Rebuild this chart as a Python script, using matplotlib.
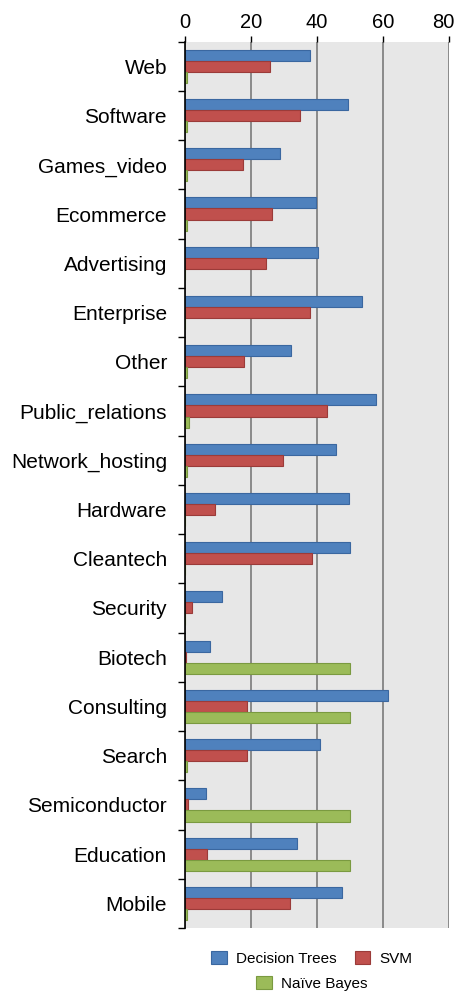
"""
Accuracy per category for three classifiers, horizontal grouped bars
"""

import numpy as np
import matplotlib as mpl
import matplotlib.pyplot as plt
from matplotlib.patches import Patch
from matplotlib.transforms import ScaledTranslation

mpl.rcParams['font.family'] = ['Liberation Sans', 'DejaVu Sans']

categories = ['Web', 'Software', 'Games_video', 'Ecommerce', 'Advertising',
              'Enterprise', 'Other', 'Public_relations', 'Network_hosting',
              'Hardware', 'Cleantech', 'Security', 'Biotech', 'Consulting',
              'Search', 'Semiconductor', 'Education', 'Mobile']
decision_trees = [38, 49.5, 28.8, 39.6, 40.2, 53.8, 32.1, 58, 45.7, 49.8,
                  50, 11.1, 7.7, 61.6, 40.9, 6.4, 34.1, 47.7]
svm = [25.8, 34.8, 17.7, 26.4, 24.7, 37.9, 17.9, 43, 29.8, 9.1,
       38.6, 2, 0.3, 18.8, 18.8, 0.9, 6.8, 31.9]
naive_bayes = [0.5, 0.5, 0.5, 0.5, 0, 0, 0.5, 1.2, 0.6, 0,
               0, 0, 50, 50, 0.5, 50, 50, 0.5]
series_names = ['Decision Trees', 'SVM', 'Naïve Bayes']
x_ticks = [0, 20, 40, 60, 80]

colors = ['#4F81BD', '#C0504D', '#9BBB59']
edges = ['#3A67A0', '#9B3B39', '#7A9A40']

fig = plt.figure(figsize=(4.58, 9.92), dpi=100)
ax = fig.add_axes([0.404, 0.0645, 0.576, 0.8935])
ax.set_facecolor('#E7E7E7')

y = np.arange(len(categories))
h = 0.225
for i, vals in enumerate([decision_trees, svm, naive_bayes]):
    ax.barh(y + (i - 1) * h, vals, height=h, color=colors[i],
            edgecolor=edges[i], linewidth=0.8, zorder=3)

ax.set_xlim(0, 80)
ax.set_ylim(len(categories) - 0.5, -0.5)
ax.set_xticks(x_ticks)
ax.xaxis.tick_top()
ax.tick_params(axis='x', length=4, width=1, pad=3, labelsize=14.5,
               colors='black')
ax.xaxis.grid(True, color='#8A8A8A', linewidth=1.4, zorder=1)

# pull the last top label in so it stays inside the figure
fig.canvas.draw()
last = ax.get_xticklabels()[-1]
last.set_transform(last.get_transform() +
                   ScaledTranslation(-4 / 72, 0, fig.dpi_scale_trans))

ax.set_yticks(y)
ax.set_yticklabels(categories, fontsize=15)
ax.set_yticks(np.arange(len(categories) + 1) - 0.5, minor=True)
ax.tick_params(axis='y', which='major', length=0, pad=13)
ax.tick_params(axis='y', which='minor', length=5, width=1, color='black')

for side in ['top', 'bottom', 'right']:
    ax.spines[side].set_visible(False)
ax.spines['left'].set_color('black')
ax.spines['left'].set_linewidth(1.2)
ax.spines['left'].set_zorder(4)

handles = [Patch(facecolor=c, edgecolor=e, linewidth=0.8)
           for c, e in zip(colors, edges)]
leg_kw = dict(frameon=False, fontsize=11, handlelength=1.0, handleheight=1.0,
              handletextpad=0.6, borderaxespad=0, borderpad=0)
fig.legend(handles[:2], series_names[:2], ncol=2, columnspacing=1.2,
           loc='center', bbox_to_anchor=(0.681, 0.034), **leg_kw)
fig.legend(handles[2:], series_names[2:], loc='center',
           bbox_to_anchor=(0.681, 0.009), **leg_kw)

fig.savefig('out.png', dpi=100)
